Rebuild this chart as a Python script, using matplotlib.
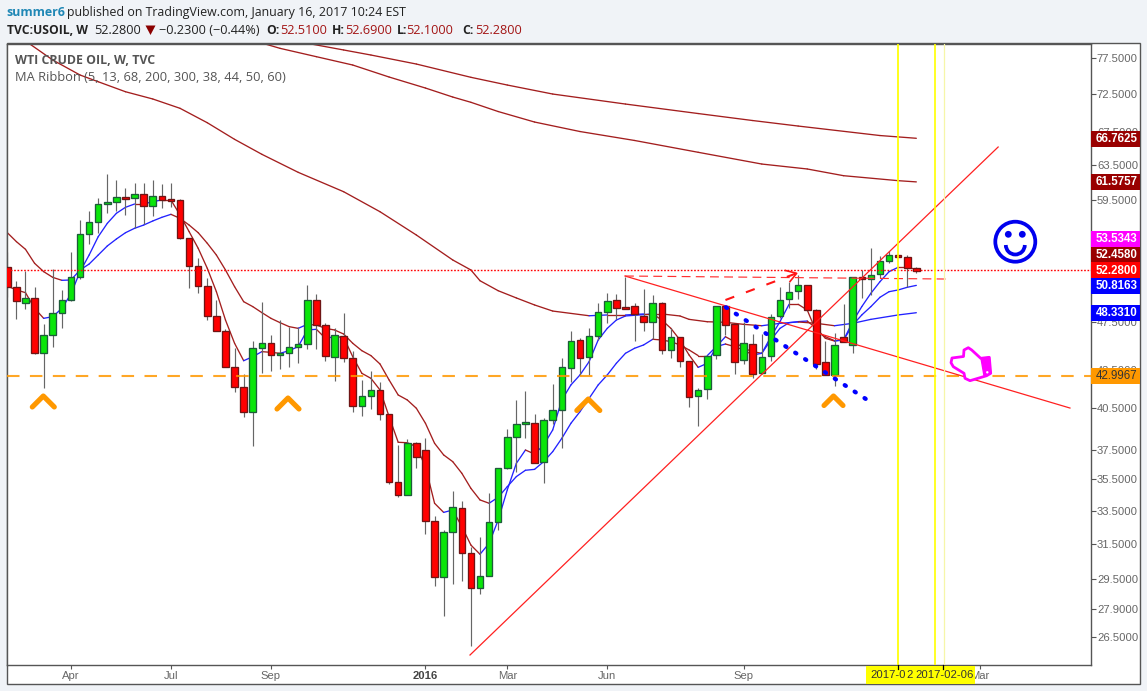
import matplotlib
matplotlib.use('Agg')
import matplotlib.pyplot as plt
from matplotlib.patches import Rectangle, Circle, Arc, Polygon
from matplotlib.ticker import FixedLocator, NullLocator

plt.rcParams['font.family'] = ['Liberation Sans', 'DejaVu Sans']

opens = [52.57, 50.66, 49.24, 49.64, 44.88, 46.35, 48.28, 49.45, 51.60, 55.88, 57.14, 59.07, 59.29, 59.84, 59.73, 60.18, 58.85, 59.95, 59.62, 59.51, 55.47, 52.67, 50.75, 48.01, 46.69,
         43.68, 42.09, 40.19, 45.25, 45.67, 44.66, 44.83, 45.33, 45.58, 49.45, 47.21, 44.55, 46.26, 44.42, 40.64, 41.40, 41.86, 40.04, 35.30, 34.46, 37.95, 37.46, 32.84, 29.61, 32.18,
         33.64, 30.95, 29.01, 29.66, 32.78, 36.23, 38.37, 39.35, 39.38, 36.63, 39.60, 40.34, 43.60, 45.92, 44.50, 46.26, 48.36, 49.45, 48.81, 48.91, 48.01, 47.48, 49.18, 45.08, 46.18,
         44.17, 41.40, 41.94, 44.66, 48.91, 47.30, 44.25, 45.58, 43.20, 44.58, 48.01, 49.54, 50.28, 50.84, 48.54, 44.09, 43.07, 46.21, 45.50, 51.60, 51.41, 51.89, 53.16, 53.75, 53.55,
         52.47]
highs = [54.12, 51.25, 52.24, 50.69, 47.33, 52.41, 50.41, 54.08, 57.38, 58.35, 59.77, 62.49, 61.80, 60.89, 61.42, 61.42, 61.80, 61.34, 61.45, 59.62, 55.47, 53.48, 51.54, 49.48, 46.87,
         45.27, 43.15, 45.84, 49.30, 46.38, 47.68, 47.10, 47.10, 50.88, 50.04, 47.39, 46.95, 48.34, 45.02, 42.67, 43.39, 42.51, 40.04, 37.83, 38.25, 38.04, 38.32, 33.17, 32.32, 34.74,
         34.10, 31.34, 31.92, 34.61, 36.23, 38.97, 41.12, 41.81, 40.06, 39.74, 42.35, 44.44, 46.72, 46.09, 46.95, 49.18, 50.16, 50.04, 51.67, 49.18, 50.50, 49.94, 49.30, 46.95, 46.18,
         44.17, 42.02, 44.66, 48.91, 48.91, 47.30, 47.48, 46.43, 46.43, 48.19, 50.66, 51.19, 51.79, 50.84, 48.66, 45.89, 46.52, 49.12, 51.60, 52.31, 54.48, 53.72, 54.22, 53.75, 53.75,
         52.57]
lows = [49.79, 47.80, 48.69, 44.80, 42.07, 45.39, 47.01, 49.42, 51.44, 54.92, 56.05, 58.17, 58.38, 57.95, 56.57, 56.96, 57.85, 58.71, 58.82, 55.43, 50.63, 50.16, 47.71, 46.69, 43.68,
        41.76, 39.87, 37.78, 43.25, 43.41, 43.55, 43.74, 44.01, 45.22, 45.22, 44.22, 42.62, 44.14, 40.24, 39.94, 40.46, 39.65, 35.19, 34.34, 34.46, 36.27, 32.10, 29.15, 27.58, 29.26,
        29.43, 26.09, 28.73, 29.66, 32.34, 36.16, 36.01, 38.35, 36.57, 35.28, 39.31, 37.64, 42.51, 43.07, 43.07, 45.95, 47.45, 47.77, 48.69, 45.89, 46.75, 46.01, 44.80, 44.47, 43.74,
        40.61, 39.21, 41.17, 44.39, 46.38, 43.12, 43.92, 42.80, 43.12, 44.22, 47.83, 48.72, 49.54, 48.51, 43.52, 43.07, 42.22, 45.81, 44.88, 49.64, 49.94, 51.51, 53.02, 53.55, 50.66,
        51.99]
closes = [50.66, 49.36, 49.64, 44.88, 46.35, 48.28, 49.45, 51.60, 55.88, 57.14, 59.07, 59.29, 59.84, 59.70, 60.18, 58.85, 59.95, 59.59, 59.48, 55.47, 52.67, 50.75, 48.01, 46.69, 43.68,
          42.09, 40.19, 45.25, 45.67, 44.66, 44.83, 45.33, 45.58, 49.45, 47.21, 44.58, 46.35, 44.42, 40.64, 41.40, 41.86, 40.04, 35.30, 34.46, 37.95, 36.98, 32.84, 29.61, 32.18, 33.71,
          30.95, 29.01, 29.66, 32.78, 36.23, 38.37, 39.31, 39.45, 36.57, 39.60, 40.34, 43.68, 45.84, 44.47, 46.26, 48.36, 49.36, 48.72, 48.69, 48.19, 47.48, 49.18, 45.08, 46.18, 44.17,
          41.32, 41.86, 44.58, 48.91, 47.21, 44.09, 45.67, 43.12, 44.50, 47.92, 49.45, 50.19, 50.84, 48.54, 43.98, 43.07, 45.50, 45.81, 51.60, 51.41, 51.86, 53.16, 53.75, 53.55, 52.47,
          52.18]
ma5 = [50.78, 50.41, 50.16, 48.72, 47.83, 47.98, 48.72, 50.04, 52.15, 53.78, 55.64, 57.03, 58.10, 58.75, 59.11, 59.11, 59.37, 59.55, 59.55, 57.92, 56.16, 54.45, 52.47, 50.25, 47.68,
       45.67, 44.22, 44.55, 44.97, 44.91, 44.83, 45.05, 45.39, 46.81, 46.87, 46.09, 46.23, 46.18, 44.55, 43.20, 42.80, 41.89, 39.87, 38.02, 37.99, 37.71, 36.34, 33.96, 33.39, 33.54,
       32.52, 31.43, 30.90, 31.53, 32.92, 34.81, 36.57, 37.48, 37.20, 37.83, 38.90, 41.12, 42.28, 43.07, 44.14, 45.95, 46.95, 47.68, 48.04, 48.10, 48.16, 48.22, 47.68, 46.95, 45.95,
       44.69, 43.68, 44.01, 45.39, 46.23, 45.81, 45.25, 44.97, 44.83, 46.23, 47.54, 49.09, 49.09, 48.57, 46.66, 46.23, 45.89, 45.95, 47.54, 48.88, 50.10, 51.19, 52.15, 52.57, 52.57,
       52.37]
ma13 = [56.05, 55.13, 54.35, 52.96, 52.15, 51.60, 51.32, 51.35, 52.31, 52.89, 53.78, 54.69, 55.40, 56.05, 56.51, 56.85, 57.28, 57.67, 57.99, 57.56, 56.85, 56.05, 54.96, 53.78, 52.31,
        50.72, 49.33, 48.88, 48.34, 47.83, 47.45, 47.10, 46.95, 47.30, 47.24, 46.95, 46.81, 46.46, 45.67, 45.05, 44.64, 43.95, 42.67, 41.50, 41.12, 40.49, 39.38, 37.95, 37.14, 36.68,
        35.90, 34.91, 34.17, 33.96, 34.34, 35.02, 35.68, 36.10, 36.16, 36.68, 37.37, 38.30, 39.38, 40.24, 41.24, 42.28, 43.07, 44.01, 44.83, 45.25, 45.53, 46.01, 45.95, 45.81, 45.53,
        45.11, 44.64, 44.64, 45.39, 45.61, 45.39, 45.11, 44.69, 44.83, 45.95, 46.95, 47.45, 47.54, 47.59, 46.95, 46.09, 45.86, 45.95, 47.24, 48.13, 48.88, 49.73, 50.25, 50.41, 50.66,
        50.84]
ma68_bars = [2, 5, 8, 10, 13, 16, 19, 22, 25, 28, 32, 37, 41, 45, 49, 51, 52, 54, 56, 58, 60, 64, 66, 68, 70, 72, 74, 75, 77, 79, 81, 83, 85, 87, 89, 91, 93, 95, 98, 100]
ma68 = [79.94, 77.17, 75.06, 74.13, 72.77, 71.80, 70.57, 68.71, 66.63, 64.81, 62.68, 60.47, 58.27, 55.81, 53.29, 52.31, 51.28, 50.34, 49.67, 49.03, 48.48, 48.06, 48.13, 48.13, 48.22,
        48.22, 48.04, 47.74, 47.53, 47.48, 47.30, 47.18, 47.39, 47.51, 47.39, 47.18, 47.39, 47.74, 48.13, 48.33]
ma200_bars = [31, 33, 37, 40, 45, 51, 55, 60, 68, 76, 82, 87, 96, 100]
ma200 = [80.23, 79.60, 78.62, 77.89, 76.60, 74.74, 73.68, 72.46, 71.13, 69.89, 68.99, 68.29, 67.10, 66.76]
ma300_bars = [26, 28, 30, 34, 38, 42, 46, 49, 51, 54, 58, 63, 69, 76, 83, 88, 92, 98, 100]
ma300 = [80.38, 79.64, 78.86, 77.65, 76.46, 74.78, 73.27, 72.06, 71.36, 70.15, 68.80, 67.60, 66.49, 65.05, 63.65, 63.07, 62.29, 61.72, 61.58]

price_ticks = [77.5, 72.5, 67.5, 63.5, 59.5, 47.5, 43.5, 40.5, 37.5, 35.5, 33.5, 31.5, 29.5, 27.9, 26.5]
month_bars = [7, 18, 29, 46, 55, 66, 81, 107, 98, 103]
month_labels = ['Apr', 'Jul', 'Sep', '2016', 'Mar', 'Jun', 'Sep', 'Mar', '', '']

last_close = 52.28
support = 42.9967
tag_values = ['66.7625', '61.5757', '53.5343', '52.4580', '52.2800', '50.8163', '48.3310', '42.9967']
tag_colors = ['#990000', '#990000', '#ff00ff', '#990000', '#ff0000', '#0000ff', '#0000ff', '#ff9800']
tag_y = [139, 182, 239, 255, 270.3, 286, 313, 375.7]

W, H = 1147, 691
BLUE = '#2222ff'
DARK = '#a31e1e'
ORANGE = '#ff9800'

fig = plt.figure(figsize=(W / 100, H / 100), dpi=100, facecolor='#f0f3f7')
fig.patches.append(Rectangle((6.5 / W, 1 - 684 / H), 1133.5 / W, 641 / H, transform=fig.transFigure,
                             facecolor='white', edgecolor='#555555', linewidth=1, zorder=-1))

ax = fig.add_axes([6.5 / W, 1 - 665 / H, 1084 / W, 621.5 / H])
ax.set_yscale('log')
ax.set_xlim(-0.09, 119.16)
ax.set_ylim(25.17, 79.57)
for s in ['top', 'left', 'right', 'bottom']:
    ax.spines[s].set_color('#555555')
    ax.spines[s].set_linewidth(1)


def draw_ma(bars, vals):
    # blue while the average rises, dark red while it falls
    for k in range(1, len(vals)):
        col = BLUE if vals[k] > vals[k - 1] else DARK
        ax.plot(bars[k - 1:k + 1], vals[k - 1:k + 1], color=col, lw=0.95, zorder=2, solid_capstyle='round')


all_bars = list(range(len(opens)))
draw_ma(all_bars, ma5)
draw_ma(all_bars, ma13)
draw_ma(ma68_bars, ma68)
draw_ma(ma200_bars, ma200)
draw_ma(ma300_bars, ma300)

ax.vlines(all_bars, lows, highs, color='#666666', lw=0.85, zorder=2.5)
for i in all_bars:
    up = closes[i] >= opens[i]
    ax.bar(i, abs(closes[i] - opens[i]), bottom=min(opens[i], closes[i]), width=0.72,
           facecolor='#0ae60a' if up else '#ff0000', edgecolor='#1d5c3a' if up else '#6e1515',
           linewidth=0.95, zorder=3)

# hand drawn lines from the chart
ax.axhline(last_close, color='#ff0000', lw=1, ls=(0, (1.2, 1.2)), zorder=4)
ax.axhline(support, color=ORANGE, lw=1.5, ls=(0, (6, 5)), alpha=0.85, zorder=4)
ax.plot([50.9, 109], [25.64, 65.69], color='#ff2020', lw=0.9, zorder=4)
ax.plot([67.95, 116.9], [51.73, 40.51], color='#ff2020', lw=0.9, zorder=4)
ax.plot([67.95, 103.5], [51.73, 51.44], color='#ff3030', lw=0.85, ls=(0, (7.5, 4.5)), zorder=4)
ax.plot([79, 86.9], [49.48, 52.02], color='#ff1515', lw=1.5, ls=(0, (4.5, 6)), zorder=4)
ax.plot([79.05, 94.5], [48.82, 41.17], color='#0000ff', lw=3.1, ls=(0, (0.3, 2.45)),
        dash_capstyle='round', zorder=4)
ax.axvline(98, color='#ffff00', lw=1.25, zorder=4)
ax.axvline(102, color='#ffff00', lw=1.2, zorder=4)
ax.axvline(103, color='#f6f6a8', lw=0.9, zorder=4)

ax.yaxis.tick_right()
ax.yaxis.set_major_locator(FixedLocator(price_ticks))
ax.yaxis.set_minor_locator(NullLocator())
ax.set_yticklabels([f'{v:.4f}' for v in price_ticks])
ax.set_xticks(month_bars)
ax.set_xticklabels(month_labels)
ax.tick_params(axis='y', length=3.4, width=0.8, color='#555555', labelcolor='#666666', labelsize=8.1, pad=1.2)
ax.tick_params(axis='x', length=3, width=0.8, color='#555555', labelcolor='#666666', labelsize=8.1, pad=1.2)
ax.get_xticklabels()[3].set_fontweight('bold')
ax.get_xticklabels()[3].set_color('#444444')
for t in ax.xaxis.get_major_ticks()[-2:]:
    t.tick1line.set_color('black')

# everything placed by pixel from here on
ov = fig.add_axes([0, 0, 1, 1], zorder=10)
ov.set_xlim(0, W)
ov.set_ylim(H, 0)
ov.axis('off')

for val, col, y in zip(tag_values, tag_colors, tag_y):
    ov.add_patch(Rectangle((1090.5, y - 8), 49.5, 16, facecolor=col, edgecolor='none'))
    dark = val == '42.9967'
    ov.text(1116.5, y + 0.3, val, color='#333333' if dark else 'white', fontsize=8.3,
            fontweight='normal' if dark else 'bold', ha='center', va='center')

ov.add_patch(Rectangle((866, 665.5), 109, 18.5, facecolor='#ffff00', edgecolor='none'))
for x, s in [(870.5, '2017-0'), (906.5, '2'), (915.5, '2017-02-06')]:
    ov.text(x, 675.5, s, color='#333333', fontsize=8.1, ha='left', va='center')
ov.plot([898.2, 898.2], [665, 669], color='black', lw=0.9)
ov.plot([943.4, 943.4], [665, 669], color='black', lw=0.9)

# chevrons under the lows
for cx, top, half in [(43.3, 396, 11), (288, 398, 11), (588.3, 399, 11.5), (833.5, 396, 9.5)]:
    ov.plot([cx - half, cx, cx + half], [top + half, top, top + half], color=ORANGE, lw=3.7,
            solid_capstyle='round', solid_joinstyle='round')

# arrow head of the dashed arrow
ov.plot([785.5, 796.7, 790], [270.5, 273.3, 281.5], color='#ff1515', lw=1.2)

# smiley
ov.add_patch(Circle((1015.3, 241.7), 20, facecolor='none', edgecolor='#0000ee', lw=2.7))
ov.add_patch(Circle((1008.3, 234.3), 3.4, facecolor='#0000ee', edgecolor='none'))
ov.add_patch(Circle((1022.3, 234.3), 3.4, facecolor='#0000ee', edgecolor='none'))
ov.add_patch(Arc((1015.3, 245), 19, 19, theta1=0, theta2=180, color='#0000ee', lw=2.7))

# pointing hand
hand = [(951, 362.7), (952, 358), (963.5, 356.5), (964, 350), (968.3, 347.7), (971.7, 350), (980.7, 358.3),
        (989.3, 357.3), (990.7, 373.3), (986.7, 375.7), (970, 380.7), (965, 378.3), (964, 373.3), (953.3, 366.7)]
cuff = [(981, 358.3), (989.3, 357.3), (990.7, 373.3), (984, 375.7)]
ov.add_patch(Polygon(hand, closed=True, facecolor='white', edgecolor='#ff00ff', lw=2, joinstyle='round'))
ov.add_patch(Polygon(cuff, closed=True, facecolor='#ff00ff', edgecolor='#ff00ff', lw=1))
ov.add_patch(Circle((987.3, 372.3), 1.2, facecolor='white', edgecolor='none'))

# header and chart titles
head = ['Open Sans', 'DejaVu Sans']
grey = '#555555'
ov.text(15, 60.5, 'WTI CRUDE OIL, W, TVC', family=head, fontsize=8.9, fontweight='bold', color=grey, va='center')
ov.text(15, 77.5, 'MA Ribbon (5, 13, 68, 200, 300, 38, 44, 50, 60)', family=head, fontsize=9.3, color=grey, va='center')
ov.text(6.7, 12, 'summer6', family=head, fontsize=8.9, fontweight='bold', color='#1f87b5', va='center')
ov.text(67, 12, 'published on TradingView.com, January 16, 2017 10:24 EST', family=head, fontsize=8.95,
        color='#222222', va='center')
row = [(6.7, 'TVC:USOIL, W', 'bold', '#222222', 8.7), (94, '52.2800', 'normal', '#222222', 9.2),
       (159.3, '\u22120.2300 (\u22120.44%)', 'normal', '#222222', 9.2),
       (266, 'O:', 'bold', '#222222', 8.7), (280, '52.5100', 'normal', '#a31515', 9.2),
       (331.7, 'H:', 'bold', '#222222', 8.7), (345, '52.6900', 'normal', '#a31515', 9.2),
       (397, 'L:', 'bold', '#222222', 8.7), (406.5, '52.1000', 'normal', '#a31515', 9.2),
       (462, 'C:', 'bold', '#222222', 8.7), (475, '52.2800', 'normal', '#a31515', 9.2)]
for x, s, w, col, fs in row:
    ov.text(x, 30, s, family=head, fontsize=fs, fontweight=w, color=col, va='center')
ov.add_patch(Polygon([(145.5, 25.5), (155.5, 25.5), (150.5, 35)], closed=True, facecolor='#8b0000', edgecolor='none'))

fig.savefig('out.png', dpi=100, facecolor=fig.get_facecolor())
